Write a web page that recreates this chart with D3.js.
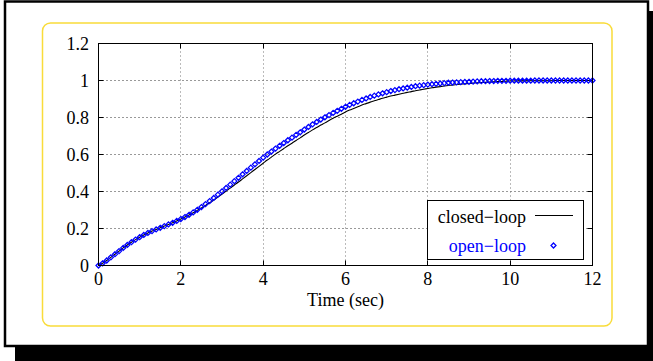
<!DOCTYPE html>
<html>
<head>
<meta charset="utf-8">
<script src="https://cdn.jsdelivr.net/npm/d3@7"></script>
<style>
  html, body { margin: 0; padding: 0; background: #fff; }
  svg { display: block; }
  text { font-family: "Liberation Serif", "Times New Roman", serif; }
</style>
</head>
<body>
<svg id="chart" width="653" height="361"></svg>
<script>
// Step response samples, 0.1 s apart from 0 to 12 s
const timeStart = 0, timeStep = 0.1;

const openLoop = [
  0.000, 0.012, 0.027, 0.044, 0.061, 0.078, 0.095, 0.111, 0.126, 0.140,
  0.153, 0.165, 0.176, 0.186, 0.195, 0.204, 0.213, 0.222, 0.231, 0.241,
  0.251, 0.262, 0.274, 0.287, 0.301, 0.316, 0.332, 0.348, 0.365, 0.383,
  0.401, 0.419, 0.437, 0.456, 0.474, 0.493, 0.511, 0.529, 0.547, 0.565,
  0.583, 0.600, 0.616, 0.632, 0.647, 0.662, 0.677, 0.691, 0.706, 0.720,
  0.735, 0.749, 0.763, 0.776, 0.789, 0.801, 0.813, 0.825, 0.836, 0.847,
  0.858, 0.868, 0.877, 0.886, 0.895, 0.903, 0.911, 0.918, 0.925, 0.931,
  0.937, 0.943, 0.948, 0.953, 0.957, 0.961, 0.965, 0.969, 0.972, 0.975,
  0.978, 0.980, 0.982, 0.984, 0.986, 0.988, 0.989, 0.990, 0.991, 0.992,
  0.993, 0.994, 0.995, 0.996, 0.996, 0.997, 0.997, 0.998, 0.998, 0.998,
  0.999, 0.999, 0.999, 0.999, 0.999, 0.999, 1.000, 1.000, 1.000, 1.000,
  1.000, 1.000, 1.000, 1.000, 1.000, 1.000, 1.000, 1.000, 1.000, 1.000,
  1.000
];

const closedLoop = [
  0.000, 0.012, 0.027, 0.044, 0.061, 0.078, 0.095, 0.111, 0.126, 0.140,
  0.153, 0.165, 0.176, 0.186, 0.195, 0.204, 0.213, 0.222, 0.231, 0.241,
  0.251, 0.262, 0.273, 0.285, 0.298, 0.311, 0.325, 0.339, 0.354, 0.370,
  0.386, 0.402, 0.418, 0.435, 0.451, 0.468, 0.485, 0.502, 0.519, 0.536,
  0.553, 0.570, 0.586, 0.602, 0.617, 0.632, 0.647, 0.661, 0.676, 0.690,
  0.705, 0.719, 0.733, 0.746, 0.759, 0.771, 0.784, 0.796, 0.807, 0.818,
  0.830, 0.840, 0.849, 0.858, 0.867, 0.875, 0.883, 0.890, 0.897, 0.904,
  0.910, 0.916, 0.921, 0.926, 0.931, 0.936, 0.940, 0.945, 0.949, 0.953,
  0.957, 0.961, 0.964, 0.967, 0.970, 0.973, 0.976, 0.978, 0.980, 0.982,
  0.984, 0.986, 0.988, 0.989, 0.990, 0.992, 0.993, 0.994, 0.995, 0.996,
  0.997, 0.997, 0.998, 0.998, 0.998, 0.999, 0.999, 0.999, 0.999, 0.999,
  0.999, 1.000, 1.000, 1.000, 1.000, 1.000, 1.000, 1.000, 1.000, 1.000,
  1.000
];

const xTicks = [0, 2, 4, 6, 8, 10, 12];
const yTicks = [0, 0.2, 0.4, 0.6, 0.8, 1, 1.2];
const xTickLabels = ["0", "2", "4", "6", "8", "10", "12"];
const yTickLabels = ["0", "0.2", "0.4", "0.6", "0.8", "1", "1.2"];
const xLabel = "Time (sec)";
const seriesNames = ["closed\u2212loop", "open\u2212loop"];

const svg = d3.select("#chart");
const W = 653, H = 361;

// Page frame with drop shadow
svg.append("rect").attr("x", 15).attr("y", 11).attr("width", W - 15).attr("height", H - 11).attr("fill", "#000");
svg.append("rect").attr("x", 5).attr("y", 1.5).attr("width", 643).attr("height", 344.5)
  .attr("fill", "#fff").attr("stroke", "#000").attr("stroke-width", 2.5);

// Rounded yellow panel
svg.append("rect").attr("x", 42.5).attr("y", 23).attr("width", 569.5).attr("height", 303)
  .attr("rx", 8).attr("ry", 8).attr("fill", "#fff").attr("stroke", "#f9dc3a").attr("stroke-width", 1.5);

const plot = { left: 98.5, right: 592.5, top: 43.5, bottom: 265.5 };

const x = d3.scaleLinear().domain([0, 12]).range([plot.left, plot.right]);
const y = d3.scaleLinear().domain([0, 1.2]).range([plot.bottom, plot.top]);
const snap = v => Math.round(v - 0.5) + 0.5;

const g = svg.append("g");

// Dotted grid
g.append("g").selectAll("line").data(yTicks.slice(1, -1)).join("line")
  .attr("x1", plot.left).attr("x2", plot.right)
  .attr("y1", d => snap(y(d))).attr("y2", d => snap(y(d)))
  .attr("stroke", "#333").attr("stroke-width", 1).attr("stroke-dasharray", "1,3");
g.append("g").selectAll("line").data(xTicks.slice(1, -1)).join("line")
  .attr("y1", plot.top).attr("y2", plot.bottom)
  .attr("x1", d => snap(x(d))).attr("x2", d => snap(x(d)))
  .attr("stroke", "#777").attr("stroke-width", 1).attr("stroke-dasharray", "1,3");

// Inward tick marks on all four sides
const tickLen = 5;
const axes = svg.append("g").attr("stroke", "#000").attr("stroke-width", 1);
xTicks.forEach(t => {
  const px = snap(x(t));
  axes.append("line").attr("x1", px).attr("x2", px).attr("y1", plot.bottom).attr("y2", plot.bottom - tickLen);
  axes.append("line").attr("x1", px).attr("x2", px).attr("y1", plot.top).attr("y2", plot.top + tickLen);
});
yTicks.forEach(v => {
  const py = snap(y(v));
  axes.append("line").attr("y1", py).attr("y2", py).attr("x1", plot.left).attr("x2", plot.left + tickLen);
  axes.append("line").attr("y1", py).attr("y2", py).attr("x1", plot.right).attr("x2", plot.right - tickLen);
});

// Tick labels
svg.append("g").selectAll("text").data(xTicks).join("text")
  .attr("x", d => x(d)).attr("y", 285)
  .attr("text-anchor", "middle").attr("font-size", 18).attr("fill", "#000")
  .text((d, i) => xTickLabels[i]);
svg.append("g").selectAll("text").data(yTicks).join("text")
  .attr("x", 89).attr("y", d => y(d) + 6)
  .attr("text-anchor", "end").attr("font-size", 18).attr("fill", "#000")
  .text((d, i) => yTickLabels[i]);

svg.append("text").attr("x", (plot.left + plot.right) / 2).attr("y", 306)
  .attr("text-anchor", "middle").attr("font-size", 18).attr("fill", "#000").text(xLabel);

const closedPts = closedLoop.map((v, i) => [timeStart + i * timeStep, v]);
const openPts = openLoop.map((v, i) => [timeStart + i * timeStep, v]);

// Closed-loop response as a solid line
svg.append("path").datum(closedPts)
  .attr("fill", "none").attr("stroke", "#000").attr("stroke-width", 1.1)
  .attr("d", d3.line().x(d => x(d[0])).y(d => y(d[1])).curve(d3.curveMonotoneX));

// Open-loop response as small hollow diamonds
const diamond = (cx, cy, r) => `M${cx},${cy - r}L${cx + r},${cy}L${cx},${cy + r}L${cx - r},${cy}Z`;
svg.append("g").selectAll("path").data(openPts).join("path")
  .attr("d", d => diamond(x(d[0]), y(d[1]), 2.5))
  .attr("fill", "none").attr("stroke", "#0000ff").attr("stroke-width", 1.25);

// Axes box
svg.append("rect").attr("x", plot.left).attr("y", plot.top)
  .attr("width", plot.right - plot.left).attr("height", plot.bottom - plot.top)
  .attr("fill", "none").attr("stroke", "#000").attr("stroke-width", 1);

// Legend
const leg = svg.append("g");
leg.append("rect").attr("x", 427.5).attr("y", 200.5).attr("width", 156).attr("height", 59)
  .attr("fill", "#fff").attr("stroke", "#000").attr("stroke-width", 1);
leg.append("text").attr("x", 526).attr("y", 222.5).attr("text-anchor", "end")
  .attr("font-size", 18).attr("fill", "#000").text(seriesNames[0]);
leg.append("line").attr("x1", 535).attr("x2", 573).attr("y1", 215.5).attr("y2", 215.5)
  .attr("stroke", "#000").attr("stroke-width", 1);
leg.append("text").attr("x", 526).attr("y", 252).attr("text-anchor", "end")
  .attr("font-size", 18).attr("fill", "#0000ff").text(seriesNames[1]);
leg.append("path").attr("d", diamond(553.5, 245.5, 2.5))
  .attr("fill", "none").attr("stroke", "#0000ff").attr("stroke-width", 1.25);
</script>
</body>
</html>
